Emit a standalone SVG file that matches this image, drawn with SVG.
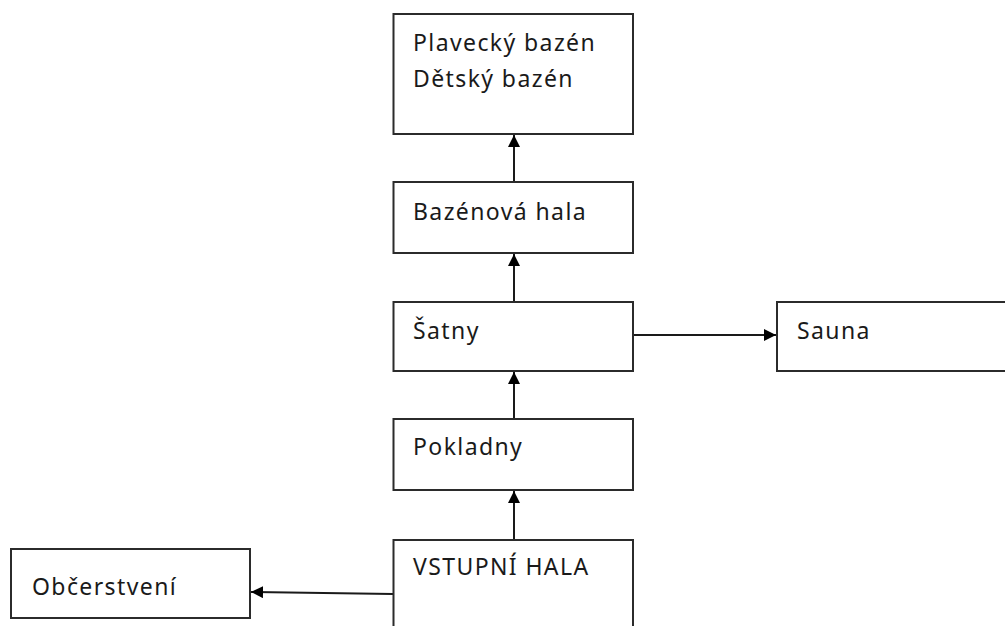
<svg xmlns="http://www.w3.org/2000/svg" width="1005" height="626" viewBox="0 0 1005 626">
  <style>
    .box { fill: #ffffff; stroke: #2b2b2b; stroke-width: 2; }
    .lbl { font-family: "Noto Sans", "Open Sans", sans-serif; font-size: 23px; letter-spacing: 1.4px; fill: #1a1a1a; }
    .edge { stroke: #1a1a1a; stroke-width: 2; fill: none; marker-end: url(#arrow); }
  </style>
  <defs>
    <marker id="arrow" viewBox="0 0 12 12" refX="12" refY="6" markerWidth="12" markerHeight="12" markerUnits="userSpaceOnUse" orient="auto">
      <path d="M0,0 L12,6 L0,12 z" fill="#000000"/>
    </marker>
  </defs>
  <rect width="1005" height="626" fill="#ffffff"/>

  <g id="connectors">
    <line class="edge" x1="514" y1="182" x2="514" y2="135"/>
    <line class="edge" x1="514" y1="302" x2="514" y2="254"/>
    <line class="edge" x1="514" y1="419" x2="514" y2="372"/>
    <line class="edge" x1="514" y1="540" x2="514" y2="491"/>
    <line class="edge" x1="633" y1="335" x2="776" y2="335"/>
    <line class="edge" x1="393" y1="594" x2="251" y2="592"/>
  </g>

  <g id="bazeny">
    <rect class="box" x="393.5" y="14" width="239.5" height="120"/>
    <text class="lbl" x="413" y="51">Plavecký bazén</text>
    <text class="lbl" x="413" y="87">Dětský bazén</text>
  </g>

  <g id="bazenova-hala">
    <rect class="box" x="393.5" y="182" width="239.5" height="71"/>
    <text class="lbl" x="413" y="220">Bazénová hala</text>
  </g>

  <g id="satny">
    <rect class="box" x="393.5" y="302" width="239.5" height="69"/>
    <text class="lbl" x="413" y="339">Šatny</text>
  </g>

  <g id="sauna">
    <rect class="box" x="777" y="302" width="240" height="69"/>
    <text class="lbl" x="797" y="339">Sauna</text>
  </g>

  <g id="pokladny">
    <rect class="box" x="393.5" y="419" width="239.5" height="71"/>
    <text class="lbl" x="413" y="455">Pokladny</text>
  </g>

  <g id="vstupni-hala">
    <rect class="box" x="393.5" y="540" width="239.5" height="100"/>
    <text class="lbl" x="413" y="575">VSTUPNÍ HALA</text>
  </g>

  <g id="obcerstveni">
    <rect class="box" x="11" y="549" width="239" height="69"/>
    <text class="lbl" x="32" y="595">Občerstvení</text>
  </g>
</svg>
